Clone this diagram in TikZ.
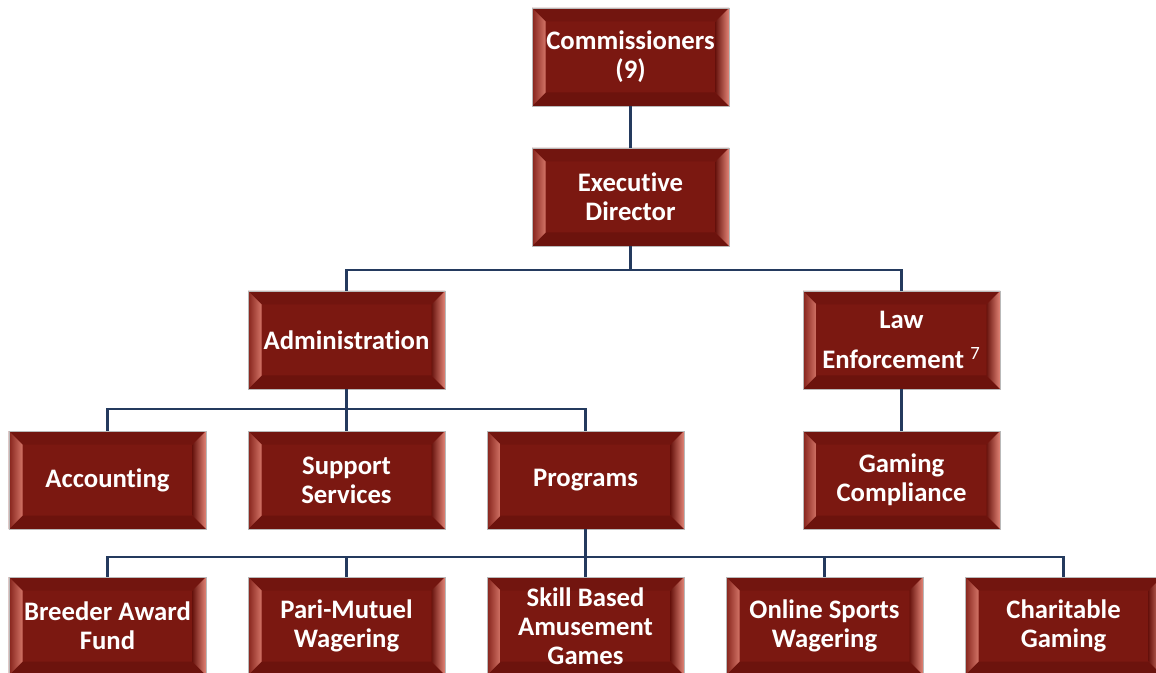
\documentclass[tikz,border=0pt]{standalone}
\usepackage{fontspec}
\setmainfont{Carlito}[Ligatures=CommonOff]
\usetikzlibrary{calc}
\definecolor{boxred}{RGB}{123,24,17}
\definecolor{bevtop}{RGB}{114,21,15}
\definecolor{bevbot}{RGB}{108,19,13}
\definecolor{bevpink}{RGB}{226,132,118}
\definecolor{linknavy}{RGB}{36,58,94}
\newcommand\bev{0.27}
\newcommand\boxfont{\bfseries\fontsize{15.2}{16.6}\selectfont}
\tikzset{
  unit/.style={draw=gray!55, line width=0.5pt, fill=boxred, text=white,
    font=\boxfont, align=center, inner sep=0pt,
    minimum width=3.94cm, minimum height=1.96cm,
    path picture={
      \path (path picture bounding box.south west) coordinate (bsw)
            (path picture bounding box.north east) coordinate (bne)
            (bsw |- bne) coordinate (bnw)
            (bne |- bsw) coordinate (bse);
      \fill[bevtop] (bnw) -- (bne) -- ++(-\bev,-\bev) -- ($(bnw)+(\bev,-\bev)$) -- cycle;
      \fill[bevbot] (bsw) -- (bse) -- ++(-\bev,\bev) -- ($(bsw)+(\bev,\bev)$) -- cycle;
      \fill[left color=boxred!90!bevpink, right color=bevpink!85!boxred]
            (bsw) -- (bnw) -- ++(\bev,-\bev) -- ($(bsw)+(\bev,\bev)$) -- cycle;
      \fill[left color=boxred!85!black, right color=bevpink]
            (bse) -- (bne) -- ++(-\bev,-\bev) -- ($(bse)+(-\bev,\bev)$) -- cycle;
    }},
  link/.style={draw=linknavy, line width=1.7pt}
}
\begin{document}
\begin{tikzpicture}
      \useasboundingbox (0,0) rectangle (23.12,-13.46);
      \path
        (12.61,-1.14) node[unit] (comm){Commissioners\\(9)}
        (12.61,-3.94) node[unit] (exec){Executive\\Director}
        (6.93,-6.80) node[unit] (admin){Administration}
        (18.03,-6.80) node[unit] (law){Law\\[0.22cm]Enforcement \textsuperscript{\mdseries 7}}
        (2.15,-9.60) node[unit] (acct){Accounting}
        (6.93,-9.60) node[unit] (supp){Support\\Services}
        (11.71,-9.60) node[unit] (prog){Programs}
        (18.03,-9.60) node[unit] (comp){Gaming\\Compliance}
        (2.15,-12.52) node[unit] (breed){Breeder Award\\Fund}
        (6.93,-12.52) node[unit] (pari){Pari-Mutuel\\Wagering}
        (11.71,-12.52) node[unit] (skill){Skill Based\\Amusement\\Games}
        (16.49,-12.52) node[unit] (sport){Online Sports\\Wagering}
        (21.27,-12.52) node[unit] (char){Charitable\\Gaming};
      \coordinate (busexec) at (12.61,-5.40);
      \coordinate (busadmin) at (6.93,-8.18);
      \coordinate (busprog) at (11.71,-11.14);
      \begin{scope}[link]
        \draw (comm) to (exec);
        \draw (exec.south) -- (busexec) -| (admin.north);
        \draw (busexec) -| (law.north);
        \draw (admin.south) -- (busadmin) -| (acct.north);
        \draw (busadmin) -| (prog.north);
        \draw (busadmin) -- (supp.north);
        \draw (law) to (comp);
        \draw (prog.south) -- (busprog) -| (breed.north);
        \draw (busprog) -| (char.north);
        \draw (busprog -| pari.north) -- (pari.north);
        \draw (busprog) -- (skill.north);
        \draw (busprog -| sport.north) -- (sport.north);
      \end{scope}
    \end{tikzpicture}
\end{document}
